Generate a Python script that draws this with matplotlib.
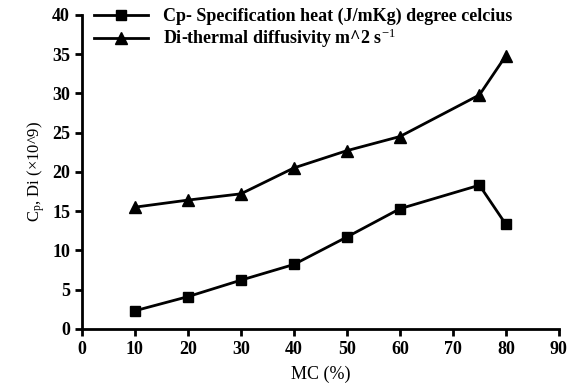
import matplotlib
matplotlib.use("Agg")
import matplotlib.pyplot as plt

mc = [10, 20, 30, 40, 50, 60, 75, 80]
cp = [2.3, 4.1, 6.2, 8.2, 11.7, 15.3, 18.3, 13.3]
di = [15.5, 16.4, 17.2, 20.5, 22.7, 24.5, 29.8, 34.8]
xticks = [0, 10, 20, 30, 40, 50, 60, 70, 80, 90]
yticks = [0, 5, 10, 15, 20, 25, 30, 35, 40]

plt.rcParams['font.family'] = ['Liberation Serif', 'DejaVu Serif']
plt.rcParams['mathtext.fontset'] = 'custom'
plt.rcParams['mathtext.rm'] = 'Liberation Serif'
plt.rcParams['mathtext.it'] = 'Liberation Serif'

fig = plt.figure(figsize=(5.81, 3.91), dpi=100)
ax = fig.add_axes([0.141, 0.159, 0.821, 0.803])

ax.plot(mc, cp, color='black', lw=2, marker='s', ms=7,
        label='Cp- Specification heat (J/mKg) degree celcius')
ax.plot(mc, di, color='black', lw=2, marker='^', ms=8,
        label='Di-thermal diffusivity m^2 s$^{-1}$')

ax.set_xlim(0, 90)
ax.set_ylim(0, 40)
ax.set_xticks(xticks)
ax.set_yticks(yticks)
for s in ['top', 'right']:
    ax.spines[s].set_visible(False)
for s in ['left', 'bottom']:
    ax.spines[s].set_linewidth(2)
ax.tick_params(direction='out', width=2, length=5, labelsize=13)
for lab in ax.get_xticklabels() + ax.get_yticklabels():
    lab.set_fontweight('bold')

ax.set_xlabel('MC (%)', fontsize=13, labelpad=6)
ax.set_ylabel('C$_\\mathrm{p}$, Di (×10^9)', fontsize=12)

ax.legend(loc='upper left', bbox_to_anchor=(0.01, 1.045), frameon=False,
          handlelength=3.0, borderaxespad=0, labelspacing=0.1,
          prop={'weight': 'bold', 'size': 13})

fig.savefig('out.png', dpi=100)
